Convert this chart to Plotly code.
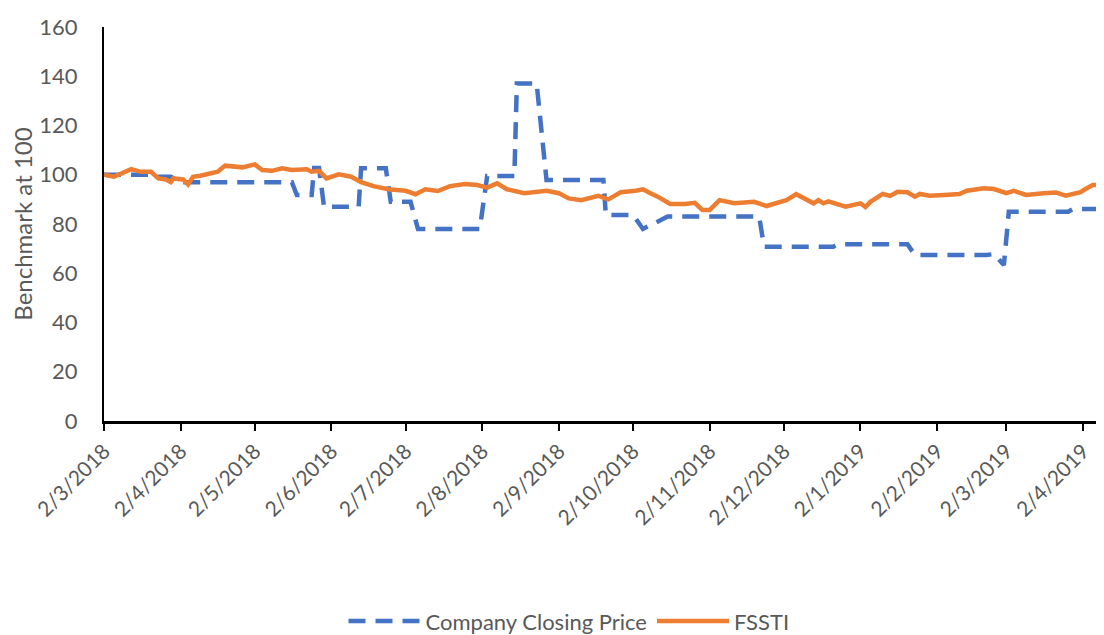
import pandas as pd
import plotly.graph_objects as go

# Company Closing Price (benchmarked at 100)
company_dates = [
    "2018-03-02", "2018-03-21", "2018-03-23", "2018-03-29", "2018-04-02",
    "2018-05-17", "2018-05-19", "2018-05-25", "2018-05-26", "2018-05-28",
    "2018-05-30", "2018-06-13", "2018-06-14", "2018-06-24", "2018-06-26",
    "2018-07-04", "2018-07-07", "2018-08-01", "2018-08-04", "2018-08-15",
    "2018-08-16", "2018-08-24", "2018-08-28", "2018-09-20", "2018-09-21",
    "2018-10-02", "2018-10-06", "2018-10-14", "2018-10-16", "2018-11-22",
    "2018-11-24", "2018-12-22", "2018-12-24", "2019-01-21", "2019-01-24",
    "2019-02-22", "2019-02-25", "2019-03-01", "2019-03-03", "2019-03-27",
    "2019-03-29", "2019-04-09",
]
company_values = [
    100, 100, 99.2, 99.2, 97,
    97, 91.8, 91.8, 102.7, 102.7,
    87, 87, 102.6, 102.6, 89,
    89, 78, 78, 99.5, 99.5,
    137.1, 137.1, 97.9, 97.9, 83.7,
    83.7, 78, 82.4, 83, 83,
    70.8, 70.8, 71.8, 71.8, 67.4,
    67.4, 67.8, 63.3, 85, 85,
    86.1, 86.1,
]

# FSSTI (benchmarked at 100)
fssti_dates = [
    "2018-03-02", "2018-03-06", "2018-03-13", "2018-03-17", "2018-03-21",
    "2018-03-24", "2018-03-27", "2018-03-29", "2018-03-30", "2018-04-03",
    "2018-04-05", "2018-04-07", "2018-04-10", "2018-04-14", "2018-04-17",
    "2018-04-20", "2018-04-23", "2018-04-27", "2018-05-02", "2018-05-05",
    "2018-05-09", "2018-05-13", "2018-05-17", "2018-05-23", "2018-05-25",
    "2018-05-28", "2018-05-31", "2018-06-05", "2018-06-10", "2018-06-14",
    "2018-06-19", "2018-06-25", "2018-07-02", "2018-07-06", "2018-07-10",
    "2018-07-15", "2018-07-20", "2018-07-26", "2018-07-31", "2018-08-04",
    "2018-08-08", "2018-08-12", "2018-08-19", "2018-08-23", "2018-08-28",
    "2018-09-02", "2018-09-06", "2018-09-11", "2018-09-14", "2018-09-18",
    "2018-09-22", "2018-09-27", "2018-10-03", "2018-10-06", "2018-10-09",
    "2018-10-12", "2018-10-17", "2018-10-23", "2018-10-27", "2018-10-30",
    "2018-11-02", "2018-11-06", "2018-11-12", "2018-11-16", "2018-11-20",
    "2018-11-25", "2018-11-29", "2018-12-03", "2018-12-07", "2018-12-11",
    "2018-12-14", "2018-12-16", "2018-12-18", "2018-12-20", "2018-12-23",
    "2018-12-27", "2019-01-02", "2019-01-04", "2019-01-06", "2019-01-11",
    "2019-01-14", "2019-01-17", "2019-01-21", "2019-01-24", "2019-01-26",
    "2019-01-30", "2019-02-05", "2019-02-11", "2019-02-14", "2019-02-21",
    "2019-02-25", "2019-03-02", "2019-03-05", "2019-03-10", "2019-03-17",
    "2019-03-22", "2019-03-26", "2019-04-01", "2019-04-03", "2019-04-06",
    "2019-04-10",
]
fssti_values = [
    100, 99.2, 102.3, 101.2, 101.2,
    98.5, 98.1, 97, 98.5, 98.1,
    96.1, 99.2, 99.6, 100.6, 101.2,
    103.7, 103.3, 103, 104.2, 101.9,
    101.6, 102.6, 101.9, 102.2, 101.2,
    101.6, 98.5, 100.2, 99.2, 97,
    95.4, 94.1, 93.5, 92.1, 94.1,
    93.4, 95.4, 96.2, 95.8, 94.8,
    96.5, 94.1, 92.5, 93.1, 93.5,
    92.5, 90.4, 89.7, 90.4, 91.4,
    90, 92.9, 93.5, 94.1, 92.5,
    91.1, 88.1, 88.1, 88.6, 85.7,
    85.7, 89.7, 88.4, 88.8, 89,
    87.3, 88.6, 89.7, 92.1, 90,
    88.4, 89.7, 88.4, 89.2, 88.1,
    87, 88.4, 86.9, 89, 92.2,
    91.4, 93.1, 92.9, 91.1, 92.2,
    91.5, 91.8, 92.2, 93.5, 94.5,
    94.2, 92.5, 93.5, 91.8, 92.5,
    92.8, 91.5, 92.9, 94.2, 95.8,
    95.8,
]

# Monthly tick dates (2nd of each month)
tick_dates = [pd.Timestamp(y, m, 2) for y, m in
              [(2018, mm) for mm in range(3, 13)] + [(2019, mm) for mm in range(1, 5)]]
tick_text = [f"{d.day}/{d.month}/{d.year}" for d in tick_dates]

y_ticks = [0, 20, 40, 60, 80, 100, 120, 140, 160]

FONT = "Lato"
GREY = "#595959"

fig = go.Figure()
fig.add_trace(go.Scatter(
    x=pd.to_datetime(company_dates), y=company_values, mode="lines",
    name="Company Closing Price",
    line=dict(color="#4472C4", width=4.5, dash="17px,10px"),
))
fig.add_trace(go.Scatter(
    x=pd.to_datetime(fssti_dates), y=fssti_values, mode="lines",
    name="FSSTI",
    line=dict(color="#ED7D31", width=4.5),
))

# page body has an 8px default margin; size the figure to fit the window
fig.update_layout(
    width=1096, height=627,
    margin=dict(l=96, r=0, t=19, b=214, autoexpand=False),
    paper_bgcolor="white", plot_bgcolor="white",
    font=dict(family=FONT, color=GREY, size=20),
    showlegend=True,
    legend=dict(
        orientation="h", x=0.465, xanchor="center", y=-0.508, yanchor="middle",
        font=dict(size=22, color=GREY, family=FONT), itemwidth=72,
    ),
)
fig.update_xaxes(
    type="date", range=["2018-03-02", "2019-04-10 12:00"],
    tickvals=tick_dates, ticktext=tick_text, tickangle=-45,
    showline=True, linecolor="black", linewidth=2.5,
    ticks="outside", ticklen=7, tickwidth=2, tickcolor="black",
    showgrid=False, zeroline=False, automargin=False,
    tickfont=dict(size=21, color=GREY, family=FONT),
)
fig.update_yaxes(
    range=[0, 160], tickvals=y_ticks,
    showline=True, linecolor="black", linewidth=2,
    ticks="", showgrid=False, zeroline=False, automargin=False,
    ticklabelstandoff=20,
    tickfont=dict(size=22, color=GREY, family=FONT),
    title=dict(text="Benchmark at 100", font=dict(size=24, color=GREY, family=FONT), standoff=12),
)

fig.write_html("out.html")
